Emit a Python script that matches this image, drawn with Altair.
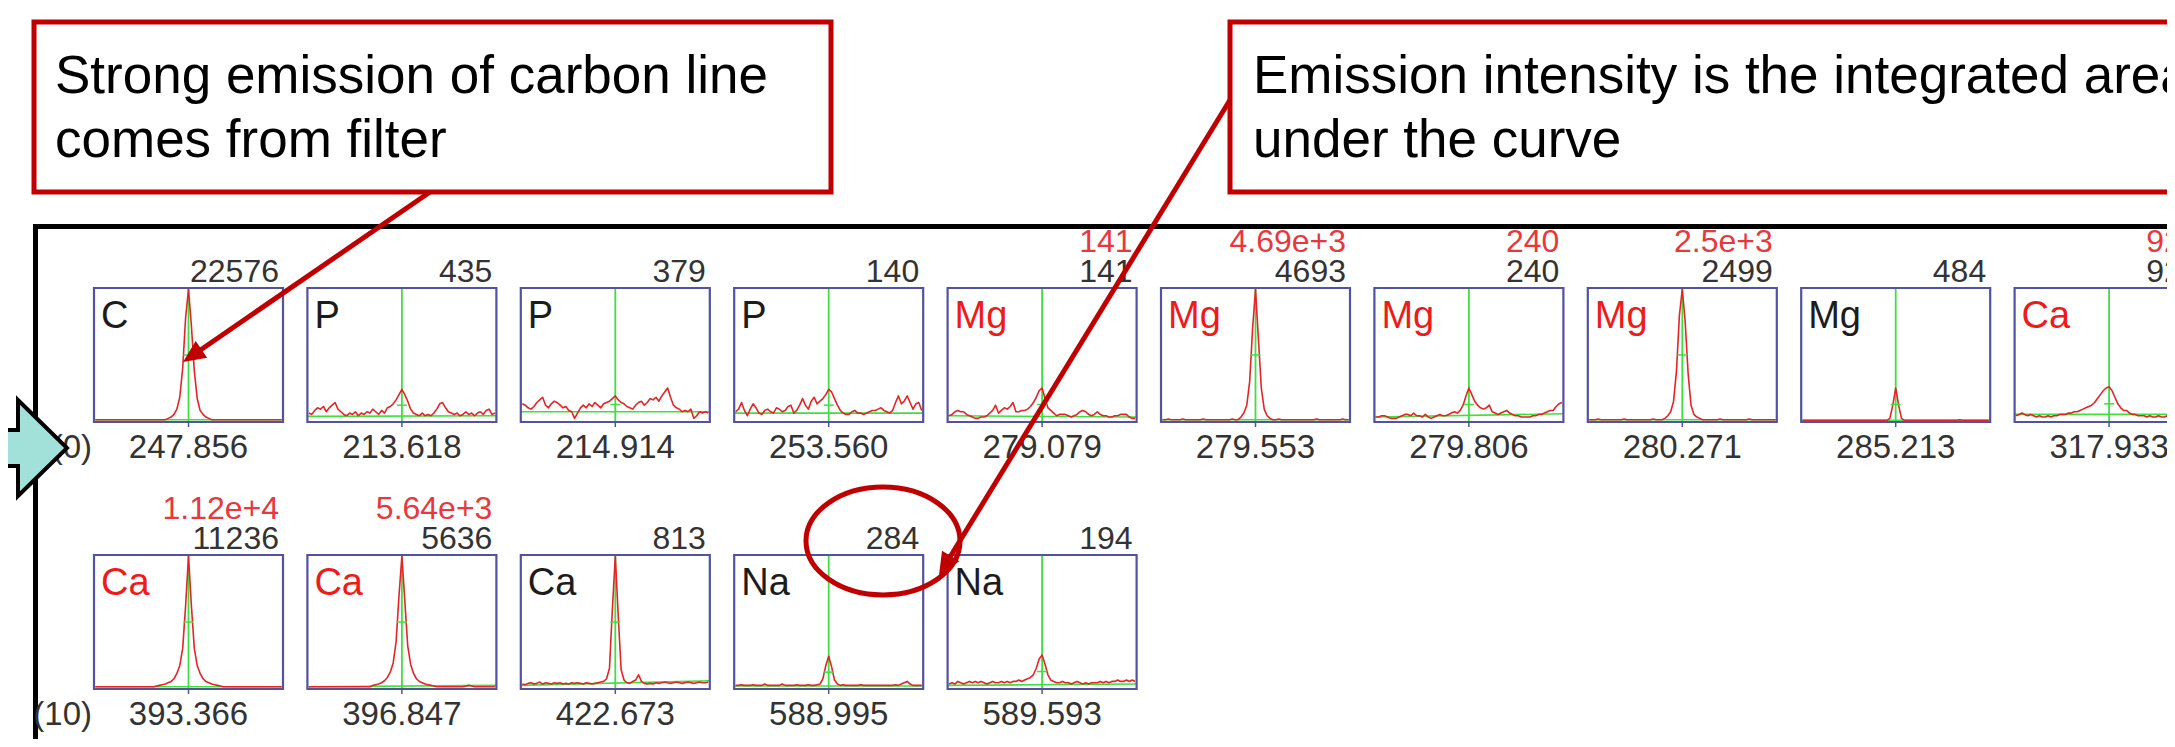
import math
import altair as alt
import pandas as pd

# ---------------- data ----------------
ELEMENTS = ["C", "P", "P", "P", "Mg", "Mg", "Mg", "Mg", "Mg", "Ca",
            "Ca", "Ca", "Ca", "Na", "Na"]
WAVELENGTHS = ["247.856", "213.618", "214.914", "253.560", "279.079", "279.553",
               "279.806", "280.271", "285.213", "317.933",
               "393.366", "396.847", "422.673", "588.995", "589.593"]
INTENSITY = ["22576", "435", "379", "140", "141", "4693", "240", "2499", "484", "926",
             "11236", "5636", "813", "284", "194"]
FLAGGED = ["", "", "", "", "141", "4.69e+3", "240", "2.5e+3", "", "926",
           "1.12e+4", "5.64e+3", "", "", ""]
ROW_LABELS = ["(0)", "(10)"]
NOTE_1 = ["Strong emission of carbon line", "comes from filter"]
NOTE_2 = ["Emission intensity is the integrated area", "under the curve"]

# background (green) level at left / right edge of each window, fraction of box height
GREEN_BASE = [(0.01, 0.01), (0.035, 0.04), (0.07, 0.07), (0.06, 0.06), (0.04, 0.03),
              (0.01, 0.01), (0.03, 0.055), (0.01, 0.01), (0.005, 0.005), (0.05, 0.05),
              (0.01, 0.01), (0.01, 0.02), (0.02, 0.055), (0.015, 0.015), (0.02, 0.03)]

# spectra: intensity as a fraction of box height, 65 samples across each window
S_C247 = [0.01, 0.01, 0.01, 0.01, 0.01, 0.01, 0.01, 0.01, 0.01, 0.01,
          0.01, 0.01, 0.01, 0.01, 0.01, 0.01, 0.01, 0.01, 0.01, 0.01,
          0.01, 0.01, 0.01, 0.01, 0.01, 0.02, 0.03, 0.05, 0.09, 0.18,
          0.40, 0.78, 1.00, 0.72, 0.38, 0.17, 0.08, 0.05, 0.03, 0.02,
          0.01, 0.01, 0.01, 0.01, 0.01, 0.01, 0.01, 0.01, 0.01, 0.01,
          0.01, 0.01, 0.01, 0.01, 0.01, 0.01, 0.01, 0.01, 0.01, 0.01,
          0.01, 0.01, 0.01, 0.01, 0.01]
S_P213 = [0.06, 0.05, 0.08, 0.10, 0.09, 0.11, 0.07, 0.10, 0.12, 0.14,
          0.09, 0.07, 0.05, 0.04, 0.06, 0.05, 0.07, 0.04, 0.06, 0.05,
          0.07, 0.06, 0.09, 0.07, 0.05, 0.08, 0.06, 0.10, 0.11, 0.13,
          0.16, 0.20, 0.24, 0.20, 0.15, 0.09, 0.06, 0.05, 0.04, 0.06,
          0.04, 0.05, 0.04, 0.06, 0.09, 0.13, 0.14, 0.10, 0.07, 0.06,
          0.05, 0.06, 0.04, 0.05, 0.07, 0.05, 0.06, 0.04, 0.06, 0.07,
          0.05, 0.08, 0.09, 0.05, 0.06]
S_P214 = [0.13, 0.12, 0.10, 0.09, 0.11, 0.14, 0.16, 0.18, 0.12, 0.10,
          0.13, 0.15, 0.14, 0.12, 0.10, 0.11, 0.08, 0.07, 0.02, 0.06,
          0.10, 0.12, 0.10, 0.13, 0.11, 0.14, 0.12, 0.10, 0.13, 0.14,
          0.15, 0.17, 0.19, 0.16, 0.14, 0.13, 0.11, 0.10, 0.09, 0.12,
          0.14, 0.15, 0.12, 0.14, 0.17, 0.16, 0.18, 0.15, 0.19, 0.22,
          0.25, 0.18, 0.12, 0.10, 0.09, 0.07, 0.08, 0.07, 0.09, 0.02,
          0.04, 0.07, 0.06, 0.07, 0.06]
S_P253 = [0.07, 0.09, 0.14, 0.08, 0.04, 0.09, 0.13, 0.10, 0.06, 0.05,
          0.08, 0.09, 0.07, 0.06, 0.10, 0.09, 0.07, 0.08, 0.11, 0.12,
          0.06, 0.08, 0.12, 0.17, 0.12, 0.09, 0.15, 0.18, 0.13, 0.15,
          0.17, 0.20, 0.24, 0.22, 0.17, 0.12, 0.08, 0.06, 0.05, 0.05,
          0.07, 0.08, 0.06, 0.06, 0.05, 0.06, 0.07, 0.08, 0.08, 0.09,
          0.10, 0.08, 0.07, 0.06, 0.08, 0.14, 0.19, 0.13, 0.15, 0.19,
          0.14, 0.09, 0.13, 0.14, 0.08]
S_MG279079 = [0.04, 0.05, 0.07, 0.08, 0.07, 0.07, 0.05, 0.04, 0.03, 0.02,
              0.02, 0.03, 0.03, 0.04, 0.06, 0.08, 0.12, 0.06, 0.08, 0.10,
              0.09, 0.11, 0.14, 0.07, 0.07, 0.08, 0.08, 0.09, 0.11, 0.14,
              0.18, 0.23, 0.25, 0.17, 0.10, 0.08, 0.06, 0.04, 0.05, 0.05,
              0.05, 0.04, 0.03, 0.04, 0.05, 0.07, 0.08, 0.07, 0.05, 0.04,
              0.05, 0.07, 0.05, 0.04, 0.04, 0.03, 0.03, 0.04, 0.04, 0.05,
              0.05, 0.05, 0.03, 0.02, 0.02]
S_MG279553 = [0.01, 0.01, 0.015, 0.01, 0.01, 0.01, 0.01, 0.015, 0.01, 0.01,
              0.01, 0.01, 0.01, 0.01, 0.015, 0.01, 0.01, 0.01, 0.01, 0.01,
              0.01, 0.01, 0.01, 0.01, 0.015, 0.01, 0.01, 0.03, 0.06, 0.12,
              0.30, 0.70, 1.00, 0.62, 0.25, 0.09, 0.04, 0.02, 0.01, 0.01,
              0.015, 0.01, 0.01, 0.01, 0.01, 0.01, 0.01, 0.01, 0.01, 0.01,
              0.01, 0.01, 0.01, 0.015, 0.01, 0.01, 0.01, 0.01, 0.01, 0.01,
              0.01, 0.01, 0.015, 0.01, 0.01]
S_MG279806 = [0.03, 0.03, 0.04, 0.04, 0.03, 0.02, 0.02, 0.02, 0.03, 0.04,
              0.05, 0.05, 0.04, 0.06, 0.04, 0.04, 0.03, 0.05, 0.03, 0.02,
              0.03, 0.04, 0.05, 0.04, 0.04, 0.05, 0.06, 0.07, 0.06, 0.08,
              0.12, 0.19, 0.25, 0.20, 0.15, 0.12, 0.10, 0.09, 0.10, 0.12,
              0.07, 0.06, 0.05, 0.06, 0.07, 0.08, 0.06, 0.05, 0.04, 0.04,
              0.03, 0.03, 0.03, 0.03, 0.04, 0.04, 0.05, 0.05, 0.06, 0.07,
              0.08, 0.08, 0.11, 0.13, 0.14]
S_MG280271 = [0.01, 0.01, 0.01, 0.015, 0.01, 0.01, 0.01, 0.01, 0.01, 0.01,
              0.01, 0.01, 0.015, 0.01, 0.01, 0.01, 0.01, 0.01, 0.01, 0.01,
              0.01, 0.01, 0.015, 0.01, 0.01, 0.01, 0.02, 0.04, 0.07, 0.15,
              0.38, 0.80, 1.00, 0.75, 0.36, 0.12, 0.05, 0.03, 0.02, 0.01,
              0.01, 0.01, 0.01, 0.01, 0.01, 0.015, 0.01, 0.01, 0.01, 0.01,
              0.01, 0.01, 0.01, 0.01, 0.01, 0.015, 0.01, 0.01, 0.01, 0.01,
              0.01, 0.01, 0.01, 0.01, 0.01]
S_MG285 = [0.005, 0.005, 0.005, 0.005, 0.005, 0.005, 0.005, 0.005, 0.005, 0.005,
           0.005, 0.005, 0.005, 0.005, 0.005, 0.005, 0.005, 0.005, 0.005, 0.005,
           0.005, 0.005, 0.005, 0.005, 0.005, 0.005, 0.005, 0.005, 0.005, 0.005,
           0.02, 0.12, 0.25, 0.12, 0.02, 0.005, 0.005, 0.005, 0.005, 0.005,
           0.005, 0.005, 0.005, 0.005, 0.005, 0.005, 0.005, 0.005, 0.005, 0.005,
           0.005, 0.005, 0.005, 0.005, 0.01, 0.005, 0.005, 0.005, 0.005, 0.005,
           0.005, 0.005, 0.005, 0.005, 0.005]
S_CA317 = [0.04, 0.05, 0.06, 0.05, 0.04, 0.05, 0.04, 0.03, 0.04, 0.03,
           0.03, 0.04, 0.03, 0.04, 0.04, 0.05, 0.05, 0.05, 0.06, 0.06,
           0.07, 0.07, 0.08, 0.09, 0.10, 0.11, 0.12, 0.14, 0.17, 0.20,
           0.23, 0.25, 0.26, 0.23, 0.18, 0.13, 0.10, 0.08, 0.08, 0.06,
           0.05, 0.05, 0.04, 0.04, 0.04, 0.03, 0.04, 0.03, 0.03, 0.04,
           0.03, 0.03, 0.04, 0.03, 0.03, 0.03, 0.04, 0.03, 0.03, 0.03,
           0.04, 0.03, 0.03, 0.03, 0.03]
S_CA393 = [0.01, 0.01, 0.01, 0.01, 0.01, 0.01, 0.01, 0.01, 0.01, 0.01,
           0.01, 0.01, 0.01, 0.01, 0.01, 0.01, 0.01, 0.01, 0.01, 0.01,
           0.01, 0.015, 0.02, 0.025, 0.03, 0.04, 0.05, 0.07, 0.11, 0.17,
           0.30, 0.62, 1.00, 0.62, 0.30, 0.17, 0.11, 0.07, 0.05, 0.04,
           0.03, 0.025, 0.02, 0.015, 0.01, 0.01, 0.01, 0.01, 0.01, 0.01,
           0.01, 0.01, 0.01, 0.01, 0.01, 0.01, 0.01, 0.01, 0.01, 0.01,
           0.01, 0.01, 0.01, 0.01, 0.01]
S_CA396 = [0.01, 0.01, 0.01, 0.01, 0.01, 0.01, 0.01, 0.01, 0.01, 0.01,
           0.01, 0.01, 0.01, 0.01, 0.01, 0.01, 0.01, 0.01, 0.01, 0.01,
           0.01, 0.01, 0.02, 0.025, 0.03, 0.04, 0.055, 0.08, 0.12, 0.19,
           0.35, 0.70, 1.00, 0.66, 0.32, 0.18, 0.11, 0.07, 0.05, 0.04,
           0.03, 0.025, 0.02, 0.015, 0.01, 0.01, 0.01, 0.01, 0.01, 0.01,
           0.01, 0.01, 0.01, 0.01, 0.015, 0.02, 0.015, 0.01, 0.01, 0.01,
           0.01, 0.01, 0.01, 0.01, 0.01]
S_CA422 = [0.03, 0.025, 0.035, 0.04, 0.03, 0.035, 0.045, 0.03, 0.04, 0.035,
           0.03, 0.04, 0.035, 0.04, 0.03, 0.035, 0.03, 0.04, 0.035, 0.04,
           0.035, 0.03, 0.04, 0.035, 0.03, 0.035, 0.04, 0.045, 0.05, 0.07,
           0.15, 0.60, 1.00, 0.55, 0.14, 0.06, 0.04, 0.035, 0.05, 0.06,
           0.10, 0.05, 0.035, 0.03, 0.035, 0.03, 0.04, 0.035, 0.04, 0.045,
           0.04, 0.035, 0.04, 0.045, 0.04, 0.035, 0.04, 0.045, 0.04, 0.035,
           0.04, 0.045, 0.04, 0.04, 0.045]
S_NA588 = [0.02, 0.02, 0.025, 0.02, 0.02, 0.02, 0.025, 0.02, 0.02, 0.02,
           0.03, 0.02, 0.02, 0.02, 0.02, 0.02, 0.03, 0.02, 0.02, 0.02,
           0.02, 0.025, 0.02, 0.02, 0.02, 0.025, 0.02, 0.02, 0.025, 0.03,
           0.07, 0.17, 0.24, 0.16, 0.06, 0.03, 0.02, 0.025, 0.02, 0.02,
           0.02, 0.02, 0.02, 0.025, 0.02, 0.02, 0.02, 0.02, 0.02, 0.02,
           0.02, 0.02, 0.02, 0.02, 0.02, 0.025, 0.02, 0.03, 0.04, 0.05,
           0.03, 0.02, 0.02, 0.02, 0.02]
S_NA589 = [0.03, 0.04, 0.03, 0.05, 0.04, 0.03, 0.04, 0.05, 0.04, 0.05,
           0.04, 0.05, 0.04, 0.03, 0.04, 0.05, 0.04, 0.04, 0.05, 0.04,
           0.05, 0.04, 0.05, 0.05, 0.06, 0.05, 0.06, 0.07, 0.08, 0.10,
           0.15, 0.22, 0.25, 0.18, 0.10, 0.06, 0.05, 0.04, 0.04, 0.05,
           0.04, 0.04, 0.03, 0.04, 0.05, 0.04, 0.03, 0.04, 0.03, 0.04,
           0.04, 0.04, 0.05, 0.04, 0.05, 0.04, 0.05, 0.05, 0.06, 0.05,
           0.05, 0.06, 0.05, 0.06, 0.05]
SPECTRA = [S_C247, S_P213, S_P214, S_P253, S_MG279079, S_MG279553, S_MG279806,
           S_MG280271, S_MG285, S_CA317, S_CA393, S_CA396, S_CA422, S_NA588, S_NA589]

# ---------------- layout (pixel-like layout units) ----------------
X0, PITCH, BW, BH = 94.0, 213.4, 189.0, 134.0
ROW_TOP = [288.0, 555.0]
PER_ROW = 10
RED_TXT, RED_LBL, DARK, LBL = "#e8383d", "#ee1b1b", "#333333", "#1c1c1c"
BOX_C, GREEN, CURVE, NOTE_C = "#52529e", "#3fdf3f", "#e42525", "#c00000"
FONT = "Liberation Sans"

XS = alt.Scale(domain=[8, 2167], nice=False, zero=False)
YS = alt.Scale(domain=[8, 739], nice=False, zero=False, reverse=True)


def X(f):
    return alt.X(f, type="quantitative", scale=XS, axis=None)


def Y(f):
    return alt.Y(f, type="quantitative", scale=YS, axis=None)


def box(i):
    col, row = i % PER_ROW, i // PER_ROW
    left = X0 + col * PITCH
    top = ROW_TOP[row]
    return left, top, left + BW, top + BH


curve_rows, boxes, greens, texts = [], [], [], []
for i, s in enumerate(SPECTRA):
    l, t, r, b = box(i)
    n = len(s)
    for k, v in enumerate(s):
        curve_rows.append({"panel": i, "k": k,
                           "x": l + 1.5 + k * (BW - 3) / (n - 1),
                           "y": b - 1 - v * (BH - 2)})
    c = (l + r) / 2
    g0, g1 = GREEN_BASE[i]
    half = max(s) / 2
    boxes.append({"l": l, "r": r, "t": t, "b": b, "c": c,
                  "gy0": b - 1 - g0 * (BH - 2), "gy1": b - 1 - g1 * (BH - 2),
                  "hy": b - 1 - half * (BH - 2), "hl": c - 5, "hr": c + 5,
                  "tick": b + 5})

curves = pd.DataFrame(curve_rows)
boxdf = pd.DataFrame(boxes)

elem_df = pd.DataFrame([{"x": box(i)[0] + 7, "y": box(i)[1] + 40, "text": e,
                         "color": RED_LBL if FLAGGED[i] else LBL}
                        for i, e in enumerate(ELEMENTS)])
num_df = pd.DataFrame([{"x": box(i)[2] - 4, "y": box(i)[1] - 6, "text": v}
                       for i, v in enumerate(INTENSITY)])
flag_df = pd.DataFrame([{"x": box(i)[2] - 4, "y": box(i)[1] - 36, "text": v}
                        for i, v in enumerate(FLAGGED) if v])
wl_df = pd.DataFrame([{"x": (box(i)[0] + box(i)[2]) / 2, "y": box(i)[3] + 35.5, "text": v}
                      for i, v in enumerate(WAVELENGTHS)])
row_df = pd.DataFrame([{"x": 92, "y": ROW_TOP[j] + BH + 35.5, "text": v}
                       for j, v in enumerate(ROW_LABELS)])

# annotations
frame_df = pd.DataFrame([{"x": 35.5, "x2": 2200, "y": 226.5, "y2": 226.5},
                         {"x": 35.5, "x2": 35.5, "y": 224, "y2": 760}])
note_box_df = pd.DataFrame([{"x": 34, "x2": 831, "y": 22, "y2": 192},
                            {"x": 1230, "x2": 2210, "y": 22, "y2": 192}])
note_txt_df = pd.DataFrame([{"x": 55, "y": 93, "text": NOTE_1[0]},
                            {"x": 55, "y": 157, "text": NOTE_1[1]},
                            {"x": 1253, "y": 93, "text": NOTE_2[0]},
                            {"x": 1253, "y": 157, "text": NOTE_2[1]}])
pointers = [((430, 192), (183, 362)), ((1230, 100), (939, 575))]
HEAD_R = 13
ptr_rows, head_rows = [], []
for (x1, y1), (x2, y2) in pointers:
    dx, dy = x2 - x1, y2 - y1
    ln = math.hypot(dx, dy)
    ux, uy = dx / ln, dy / ln
    ptr_rows.append({"x": x1, "y": y1, "x2": x2 - ux * 12, "y2": y2 - uy * 12})
    ang = math.degrees(math.atan2(ux, -uy)) % 360
    head_rows.append({"x": x2 - ux * HEAD_R, "y": y2 - uy * HEAD_R, "angle": ang})
ptr_df = pd.DataFrame(ptr_rows)
head_df = pd.DataFrame(head_rows)
ellipse_df = pd.DataFrame([{"x": 883, "y": 541}])
arrow_df = pd.DataFrame([{"x": 28, "y": 448}])

HEAD_PATH = "M 0 -1 L 0.78 0.72 L -0.78 0.72 Z"
ELLIPSE_PATH = ("M 1 0 C 1 0.3866 0.5523 0.7 0 0.7 C -0.5523 0.7 -1 0.3866 -1 0 "
                "C -1 -0.3866 -0.5523 -0.7 0 -0.7 C 0.5523 -0.7 1 -0.3866 1 0 Z")
ARROW_PATH = ("M -0.8 -0.36 L -0.2 -0.36 L -0.2 -0.96 L 0.78 0 L -0.2 0.96 "
              "L -0.2 0.36 L -0.8 0.36 Z")

# ---------------- layers ----------------
frame = alt.Chart(frame_df).mark_rule(color="black", strokeWidth=5).encode(
    x=X("x"), x2="x2", y=Y("y"), y2="y2")
note_boxes = alt.Chart(note_box_df).mark_rect(fill="white", stroke=NOTE_C, strokeWidth=5).encode(
    x=X("x"), x2="x2", y=Y("y"), y2="y2")
note_txt = alt.Chart(note_txt_df).mark_text(font=FONT, fontSize=53, align="left",
                                            baseline="alphabetic", color="black").encode(
    x=X("x"), y=Y("y"), text="text:N")

green_base = alt.Chart(boxdf).mark_rule(color=GREEN, strokeWidth=1.6).encode(
    x=X("l"), x2="r", y=Y("gy0"), y2="gy1")
green_vert = alt.Chart(boxdf).mark_rule(color=GREEN, strokeWidth=1.8).encode(
    x=X("c"), y=Y("t"), y2="b")
curve = alt.Chart(curves).mark_line(color=CURVE, strokeWidth=1.6, strokeJoin="round").encode(
    x=X("x"), y=Y("y"), detail="panel:N", order="k:Q")
half_tick = alt.Chart(boxdf).mark_rule(color=GREEN, strokeWidth=1.5).encode(
    x=X("hl"), x2="hr", y=Y("hy"))
panel_box = alt.Chart(boxdf).mark_rect(filled=False, stroke=BOX_C, strokeWidth=2.2).encode(
    x=X("l"), x2="r", y=Y("t"), y2="b")
axis_tick = alt.Chart(boxdf).mark_rule(color=BOX_C, strokeWidth=1.5).encode(
    x=X("c"), y=Y("b"), y2="tick")

elem_txt = alt.Chart(elem_df).mark_text(font=FONT, fontSize=38, align="left",
                                        baseline="alphabetic").encode(
    x=X("x"), y=Y("y"), text="text:N", color=alt.Color("color:N", scale=None))
num_txt = alt.Chart(num_df).mark_text(font=FONT, fontSize=32, align="right",
                                      baseline="alphabetic", color=DARK).encode(
    x=X("x"), y=Y("y"), text="text:N")
flag_txt = alt.Chart(flag_df).mark_text(font=FONT, fontSize=32, align="right",
                                        baseline="alphabetic", color=RED_TXT).encode(
    x=X("x"), y=Y("y"), text="text:N")
wl_txt = alt.Chart(wl_df).mark_text(font=FONT, fontSize=33, align="center",
                                    baseline="alphabetic", color=DARK).encode(
    x=X("x"), y=Y("y"), text="text:N")
row_txt = alt.Chart(row_df).mark_text(font=FONT, fontSize=33, align="right",
                                      baseline="alphabetic", color=DARK).encode(
    x=X("x"), y=Y("y"), text="text:N")

ptr = alt.Chart(ptr_df).mark_rule(color=NOTE_C, strokeWidth=5).encode(
    x=X("x"), x2="x2", y=Y("y"), y2="y2")
heads = alt.Chart(head_df).mark_point(shape=HEAD_PATH, size=(2 * HEAD_R) ** 2, filled=True,
                                      color=NOTE_C, opacity=1).encode(
    x=X("x"), y=Y("y"), angle=alt.Angle("angle:Q", scale=None))
ellipse = alt.Chart(ellipse_df).mark_point(shape=ELLIPSE_PATH, size=154 ** 2, filled=False,
                                           stroke=NOTE_C, strokeWidth=5, opacity=1).encode(
    x=X("x"), y=Y("y"))
big_arrow = alt.Chart(arrow_df).mark_point(shape=ARROW_PATH, size=100 ** 2, filled=True,
                                           fill="#a1e1d9", stroke="black", strokeWidth=4,
                                           opacity=1, strokeJoin="miter").encode(
    x=X("x"), y=Y("y"))

chart = alt.layer(
    frame, note_boxes, note_txt,
    green_base, green_vert, curve, half_tick, panel_box, axis_tick,
    elem_txt, num_txt, flag_txt, wl_txt, row_txt,
    ptr, heads, ellipse, big_arrow,
).properties(
    width=2159, height=731,
    autosize=alt.AutoSizeParams(type="none"),
    padding=0,
    background="white",
).configure_view(stroke=None)

chart.save("out.html", embed_options={"renderer": "svg", "actions": False})
